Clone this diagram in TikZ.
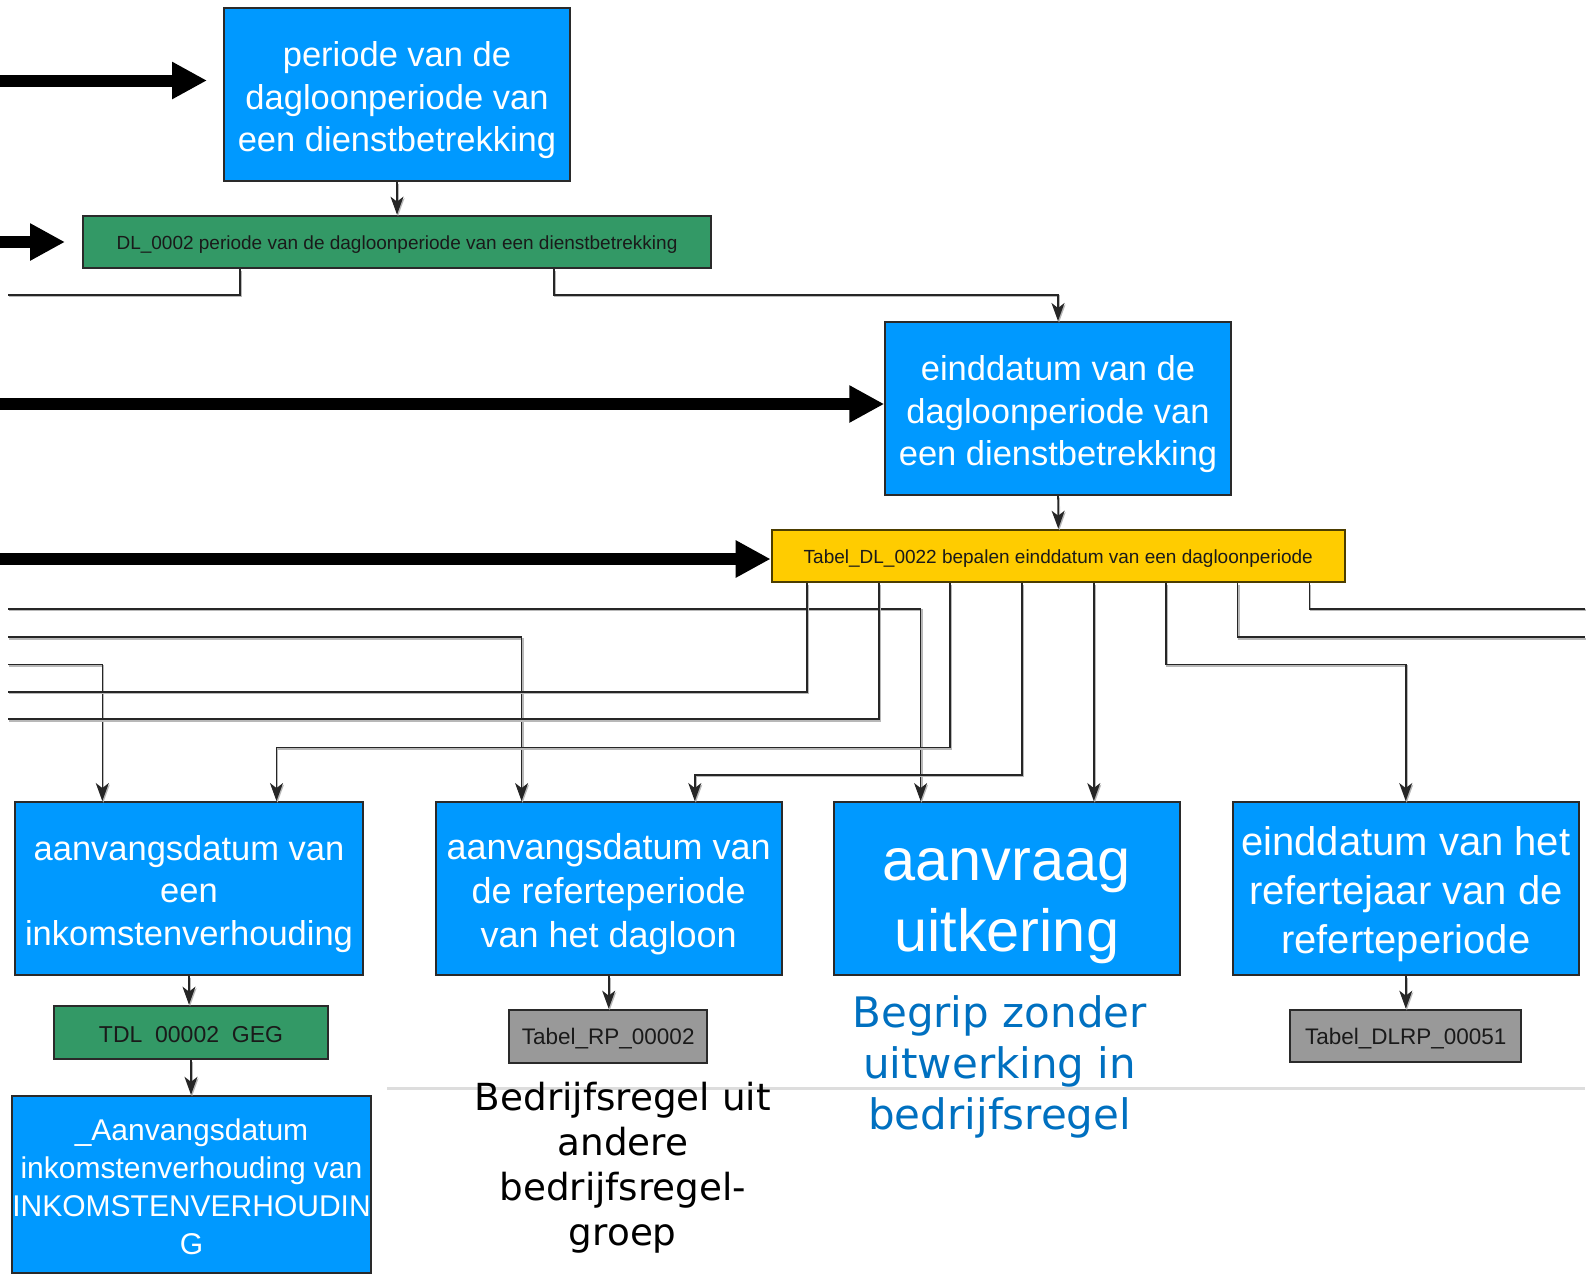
\documentclass[tikz,border=0pt]{standalone}
\usepackage{fontspec}
\setmainfont{Liberation Sans}
\newfontfamily\verdana{DejaVu Sans}
\usetikzlibrary{arrows.meta}
\definecolor{boxblue}{HTML}{0099FF}
\definecolor{boxgreen}{HTML}{339966}
\definecolor{boxyellow}{HTML}{FFCC00}
\definecolor{boxgrey}{HTML}{999999}
\definecolor{boxline}{HTML}{2A2A2A}
\definecolor{connline}{HTML}{262626}
\definecolor{sepgrey}{HTML}{DDDDDD}
\definecolor{noteblue}{HTML}{0070C0}
\definecolor{darktext}{HTML}{1A1A1A}
\newcommand\boxtext[2]{\raisebox{#1}[\height][\depth]{\begin{tabular}{@{}c@{}}#2\end{tabular}}}
\begin{document}
\begin{tikzpicture}[x=0.5pt,y=-0.5pt,
  box/.style={draw=boxline, line width=1pt, inner sep=0pt},
  bluebox/.style={box, fill=boxblue, text=white},
  greenbox/.style={box, fill=boxgreen, text=darktext},
  yellowbox/.style={box, fill=boxyellow, draw=black!70!boxyellow, text=darktext},
  greybox/.style={box, fill=boxgrey, text=darktext},
  conn/.style={draw=connline, line width=0.8pt,
    preaction={draw=black!28, line width=0.9pt, transform canvas={shift={(0.5pt,-0.8pt)}}}},
  arr/.style={conn, -{Stealth[length=9pt,width=6.5pt,inset=2.5pt]}},
  bigarrow/.style={draw=black, line width=6pt, line cap=butt, -{Triangle[length=17.5pt,width=17.5pt]}},
  fa/.style={font=\fontsize{17.25}{21.25}\selectfont},
]
\useasboundingbox (0,0) rectangle (1588,1275);

% ---------- boxes ----------
\node[bluebox, fa, minimum width=173pt, minimum height=86.5pt] (P1) at (397,94.7)
  {\boxtext{-3pt}{periode van de\\dagloonperiode van\\een dienstbetrekking}};
\node[greenbox, font=\fontsize{9.5}{11}\selectfont, minimum width=314pt, minimum height=26.35pt] (DL) at (397,242)
  {\boxtext{-1.5pt}{DL\_0002 periode van de dagloonperiode van een dienstbetrekking}};
\node[bluebox, fa, minimum width=172.75pt, minimum height=86.5pt] (E) at (1058,408.5)
  {\boxtext{-3pt}{einddatum van de\\dagloonperiode van\\een dienstbetrekking}};
\node[yellowbox, font=\fontsize{9.5}{11}\selectfont, minimum width=286.65pt, minimum height=26.3pt] (Y) at (1058.3,556)
  {\boxtext{-1.5pt}{Tabel\_DL\_0022 bepalen einddatum van een dagloonperiode}};

\node[bluebox, fa, minimum width=173.7pt, minimum height=86.65pt] (B1) at (189,888.7)
  {\boxtext{-2.75pt}{aanvangsdatum van\\een\\inkomstenverhouding}};
\node[bluebox, font=\fontsize{18}{22}\selectfont, minimum width=173.2pt, minimum height=86.65pt] (B2) at (608.7,888.7)
  {\boxtext{-3pt}{aanvangsdatum van\\de referteperiode\\van het dagloon}};
\node[bluebox, font=\fontsize{29.75}{35.5}\selectfont, minimum width=173.2pt, minimum height=86.65pt] (B3) at (1006.7,888.7)
  {\boxtext{-6.5pt}{aanvraag\\uitkering}};
\node[bluebox, font=\fontsize{20}{24.5}\selectfont, minimum width=173.25pt, minimum height=86.65pt] (B4) at (1405.8,888.7)
  {\boxtext{-3.2pt}{einddatum van het\\refertejaar van de\\referteperiode}};

\node[greenbox, font=\fontsize{11.5}{13}\selectfont, minimum width=137.2pt, minimum height=26.85pt] (TDL) at (191,1032.5)
  {\boxtext{-2.5pt}{TDL\ \ 00002\ \ GEG}};
\node[bluebox, font=\fontsize{15}{19}\selectfont, minimum width=178.25pt, minimum height=88.6pt] (A) at (191.5,1184.4)
  {\boxtext{-2.75pt}{\_Aanvangsdatum\\inkomstenverhouding van\\INKOMSTENVERHOUDIN\\G}};
\node[greybox, font=\fontsize{11.25}{13}\selectfont, minimum width=98.75pt, minimum height=26.85pt] (RP) at (608.2,1036.5)
  {\boxtext{-1.5pt}{Tabel\_RP\_00002}};
\node[greybox, font=\fontsize{11.25}{13}\selectfont, minimum width=115.5pt, minimum height=26.35pt] (DLRP) at (1405.8,1036)
  {\boxtext{-1.5pt}{Tabel\_DLRP\_00051}};

% ---------- separator and notes ----------
\coordinate (sepL) at (387,1088);
\coordinate (sepR) at (1585,1088);
\draw[draw=sepgrey, line width=1.5pt] (sepL) -- (sepR);
\node[font=\verdana\fontsize{18.65}{22.45}\selectfont, align=center, inner sep=0pt] (N1) at (622.8,1167.5)
  {Bedrijfsregel uit\\andere\\bedrijfsregel-\\groep};
\node[font=\verdana\fontsize{21}{25.5}\selectfont, text=noteblue, align=center, inner sep=0pt] (N2) at (999.6,1067)
  {Begrip zonder\\uitwerking in\\bedrijfsregel};

% ---------- thick incoming arrows ----------
\coordinate (T1) at (0,80.5);
\coordinate (T2) at (0,242);
\coordinate (T3) at (0,404);
\coordinate (T4) at (0,559);
\draw[bigarrow, shorten >=8pt] (T1) -- (P1.west |- T1);
\draw[bigarrow, shorten >=8.5pt] (T2) -- (DL.west);
\draw[bigarrow] (T3) -- (E.west |- T3);
\draw[bigarrow] (T4) -- (Y.west |- T4);

% ---------- vertical links ----------
\draw[arr] (P1.south) -- (DL.north);
\draw[arr] (E.south) -- (Y.north);
\draw[arr] (B1.south) -- (B1.south |- TDL.north);
\draw[arr] (TDL.south) -- (TDL.south |- A.north);
\draw[arr] (B2.south) -- (B2.south |- RP.north);
\draw[arr] (B4.south) -- (B4.south |- DLRP.north);

% ---------- DL_0002 outgoing ----------
\coordinate (xd1) at (240,0);
\coordinate (xd2) at (554,0);
\coordinate (L0) at (8,294.7);
\coordinate (j0) at (1058,294.7);
\draw[conn] (DL.south -| xd1) |- (L0);
\draw[arr] (DL.south -| xd2) |- (j0) -- (E.north);

% ---------- Tabel_DL_0022 outgoing ----------
\coordinate (s1) at (807.2,0);
\coordinate (s2) at (879.1,0);
\coordinate (s3) at (950,0);
\coordinate (s4) at (1021.9,0);
\coordinate (s5) at (1093.8,0);
\coordinate (s6) at (1165.7,0);
\coordinate (s7) at (1237.6,0);
\coordinate (s8) at (1309.5,0);

\coordinate (L1) at (8,608.7);
\coordinate (L2) at (8,637);
\coordinate (L3) at (8,664.4);
\coordinate (L4) at (8,691.7);
\coordinate (L5) at (8,719);
\coordinate (R1) at (1585,637);
\coordinate (R2) at (1585,608.7);
\coordinate (e3a) at (920.6,0);
\coordinate (e2a) at (521.6,0);
\coordinate (e1a) at (102.3,0);
\coordinate (j6) at (276.5,747.4);
\coordinate (j7) at (694.8,774.8);
\coordinate (j9) at (1405.7,664.4);

\draw[arr] (L1) -| (B3.north -| e3a);
\draw[arr] (L2) -| (B2.north -| e2a);
\draw[arr] (L3) -| (B1.north -| e1a);
\draw[conn] (Y.south -| s1) |- (L4);
\draw[conn] (Y.south -| s2) |- (L5);
\draw[arr] (Y.south -| s3) |- (j6) -- (B1.north -| j6);
\draw[arr] (Y.south -| s4) |- (j7) -- (B2.north -| j7);
\draw[arr] (Y.south -| s5) -- (B3.north -| s5);
\draw[arr] (Y.south -| s6) |- (j9) -- (B4.north -| j9);
\draw[conn] (Y.south -| s7) |- (R1);
\draw[conn] (Y.south -| s8) |- (R2);
\end{tikzpicture}
\end{document}
